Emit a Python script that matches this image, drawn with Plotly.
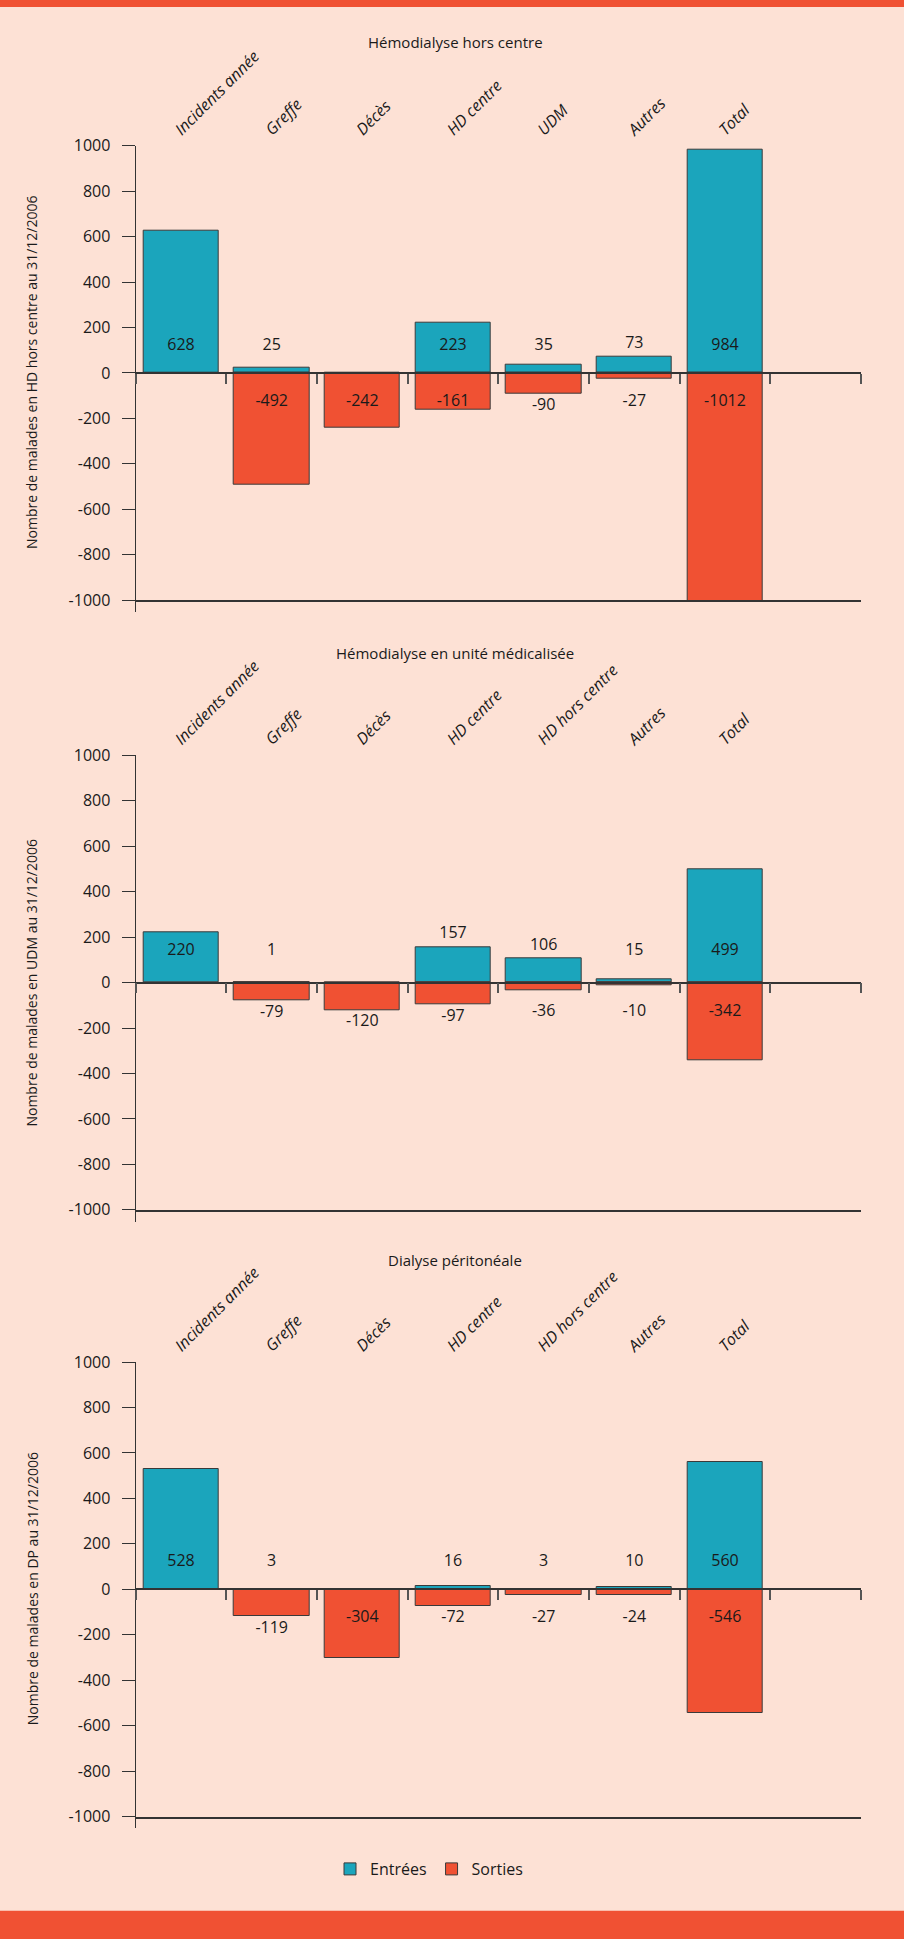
import plotly.graph_objects as go

# ---------------- DATA ----------------
categories_hdhc = ["Incidents année", "Greffe", "Décès", "HD centre", "UDM", "Autres", "Total"]
entrees_hdhc = [628, 25, None, 223, 35, 73, 984]
sorties_hdhc = [None, -492, -242, -161, -90, -27, -1012]

categories_udm = ["Incidents année", "Greffe", "Décès", "HD centre", "HD hors centre", "Autres", "Total"]
entrees_udm = [220, 1, None, 157, 106, 15, 499]
sorties_udm = [None, -79, -120, -97, -36, -10, -342]

categories_dp = ["Incidents année", "Greffe", "Décès", "HD centre", "HD hors centre", "Autres", "Total"]
entrees_dp = [528, 3, None, 16, 3, 10, 560]
sorties_dp = [None, -119, -304, -72, -27, -24, -546]

titles = ["Hémodialyse hors centre", "Hémodialyse en unité médicalisée", "Dialyse péritonéale"]
y_titles = [
    "Nombre de malades en HD hors centre au 31/12/2006",
    "Nombre de malades en UDM au 31/12/2006",
    "Nombre de malades en DP au 31/12/2006",
]
series_names = ["Entrées", "Sorties"]
y_ticks = [-1000, -800, -600, -400, -200, 0, 200, 400, 600, 800, 1000]

# ---------------- STYLE ----------------
W, H = 904, 1939
FONT = "Open Sans"
TEAL = "#1BA5BC"
ORANGE = "#F05133"
BG = "#FDE1D5"
EDGE = "#3a3a3a"
AXC = "#333333"
TXT = "#1a1a1a"

X_DOM = [135.7 / W, 861.0 / W]
PANEL_TOP_PX = [145.7, 755.3, 1362.0]
PANEL_H_PX = 454.5
TITLE_PX = [41.7, 653.0, 1260.0]
LABEL_BASE_POS = [120, 137, 120]
LABEL_BASE_NEG = 128

panels = [
    (categories_hdhc, entrees_hdhc, sorties_hdhc),
    (categories_udm, entrees_udm, sorties_udm),
    (categories_dp, entrees_dp, sorties_dp),
]


def label_y(v, base):
    a = abs(v)
    p = base if a >= base + 30 else max(base, a + 55)
    return p if v > 0 else -p


def xname(k):
    return "x" if k == 1 else f"x{k}"


def yname(k):
    return "y" if k == 1 else f"y{k}"


def lkey(letter, k):
    return f"{letter}axis" if k == 1 else f"{letter}axis{k}"


fig = go.Figure()
layout_axes = {}
annotations = []

for i, (cats, ent, sor) in enumerate(panels):
    n = i + 1
    xm, xz, xb, yy = xname(n), xname(3 + n), xname(6 + n), yname(n)
    idx = list(range(len(cats)))
    top = 1 - PANEL_TOP_PX[i] / H
    bot = 1 - (PANEL_TOP_PX[i] + PANEL_H_PX) / H

    fig.add_trace(go.Bar(
        x=idx, y=ent, name=series_names[0], width=0.83,
        marker=dict(color=TEAL, line=dict(color=EDGE, width=1)),
        xaxis=xm, yaxis=yy, showlegend=(i == 0), legendgroup="in",
        hoverinfo="skip"))
    fig.add_trace(go.Bar(
        x=idx, y=sor, name=series_names[1], width=0.83,
        marker=dict(color=ORANGE, line=dict(color=EDGE, width=1)),
        xaxis=xm, yaxis=yy, showlegend=(i == 0), legendgroup="out",
        hoverinfo="skip"))

    # value labels: Entrées on the zero-line axis, Sorties on the bottom axis
    for vals, base, xa in ((ent, LABEL_BASE_POS[i], xz), (sor, LABEL_BASE_NEG, xb)):
        xs = [j for j, v in zip(idx, vals) if v is not None]
        ys = [label_y(v, base) for v in vals if v is not None]
        tx = [str(v) for v in vals if v is not None]
        fig.add_trace(go.Scatter(
            x=xs, y=ys, text=tx, mode="text",
            textfont=dict(family=FONT, size=16, color=TXT),
            xaxis=xa, yaxis=yy, showlegend=False, hoverinfo="skip"))

    rng = [-0.5, len(cats) + 0.5]
    # main x axis: category labels on top
    layout_axes[lkey("x", n)] = dict(
        domain=X_DOM, anchor=yy, side="top", range=rng,
        tickmode="array", tickvals=idx, ticktext=cats, tickangle=-45,
        ticks="", showline=False, showgrid=False, zeroline=False,
        tickfont=dict(family=FONT, size=16, color=TXT, style="italic"),
        ticklabelstandoff=3, ticklabelshift=-5, automargin=False, fixedrange=True)
    # zero line with boundary ticks
    layout_axes[lkey("x", 3 + n)] = dict(
        overlaying=xm, anchor="free", position=(top + bot) / 2, side="bottom",
        range=rng, tickmode="linear", tick0=-0.5, dtick=1,
        ticks="outside", ticklen=10, tickwidth=1.5, tickcolor="#555555",
        showline=True, linecolor=AXC, linewidth=1.5,
        showticklabels=False, showgrid=False, zeroline=False,
        automargin=False, fixedrange=True)
    # bottom line at -1000
    layout_axes[lkey("x", 6 + n)] = dict(
        overlaying=xm, anchor=yy, side="bottom", range=rng,
        tickmode="array", tickvals=[-0.5], ticks="outside", ticklen=10,
        tickwidth=1.3, tickcolor=AXC, showline=True, linecolor=AXC, linewidth=1.5,
        showticklabels=False, showgrid=False, zeroline=False,
        automargin=False, fixedrange=True)
    layout_axes[lkey("y", n)] = dict(
        domain=[bot, top], anchor=xm, range=[-1000, 1000],
        tickmode="array", tickvals=y_ticks, ticktext=[str(v) for v in y_ticks],
        ticks="outside", ticklen=13, tickwidth=1.3, tickcolor=AXC,
        showline=True, linecolor=AXC, linewidth=1.3,
        showgrid=False, zeroline=False, ticklabelstandoff=8,
        tickfont=dict(family=FONT, size=16, color=TXT),
        automargin=False, fixedrange=True)

    annotations.append(dict(
        text=titles[i], x=455 / W, y=1 - TITLE_PX[i] / H, xref="paper", yref="paper",
        xanchor="center", yanchor="middle", showarrow=False,
        font=dict(family=FONT, size=15, color=TXT)))
    annotations.append(dict(
        text=y_titles[i], x=32 / W, y=(top + bot) / 2, xref="paper", yref="paper",
        xanchor="center", yanchor="middle", showarrow=False, textangle=-90,
        font=dict(family=FONT, size=14, color=TXT)))

shapes = [
    dict(type="rect", xref="paper", yref="paper", x0=0, x1=1, y0=1 - 7 / H, y1=1,
         fillcolor=ORANGE, line=dict(width=0), layer="below"),
    dict(type="rect", xref="paper", yref="paper", x0=0, x1=1, y0=0, y1=28.3 / H,
         fillcolor=ORANGE, line=dict(width=0), layer="below"),
]

fig.update_layout(
    width=W, height=H, autosize=False,
    margin=dict(l=0, r=0, t=0, b=0),
    paper_bgcolor=BG, plot_bgcolor=BG,
    barmode="overlay", bargap=0,
    font=dict(family=FONT, size=15, color=TXT),
    showlegend=True,
    legend=dict(orientation="h", x=330 / W, xanchor="left", y=1 - 1869 / H,
                yanchor="middle", font=dict(family=FONT, size=16, color=TXT),
                bgcolor="rgba(0,0,0,0)", traceorder="normal"),
    annotations=annotations, shapes=shapes,
    **layout_axes,
)

fig.write_html("out.html", config={"displayModeBar": False},
               post_script="document.body.style.margin='0';")
